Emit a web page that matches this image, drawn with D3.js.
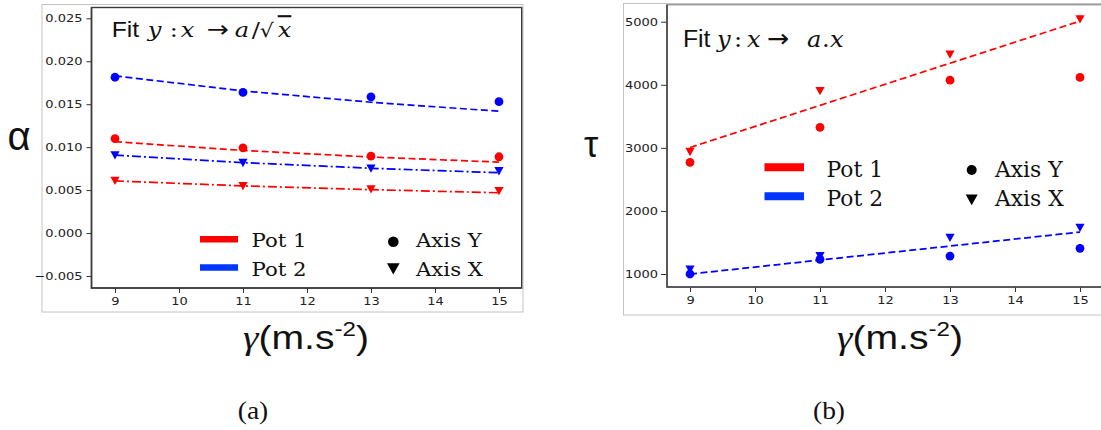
<!DOCTYPE html>
<html>
<head>
<meta charset="utf-8">
<script src="https://cdn.jsdelivr.net/npm/d3@7"></script>
<style>
  html, body { margin: 0; padding: 0; background: #fff; }
  svg { display: block; }
</style>
</head>
<body>
<svg id="chart" width="1101" height="430"></svg>
<script>
// ---------- data ----------
const gamma = [9, 11, 13, 15];
const gammaTicks = [9, 10, 11, 12, 13, 14, 15];

const alphaPot1AxisY = [0.0110, 0.00992, 0.00896, 0.00888];
const alphaPot1AxisX = [0.00609, 0.00548, 0.00510, 0.00490];
const alphaPot2AxisY = [0.01814, 0.01637, 0.01586, 0.01530];
const alphaPot2AxisX = [0.00907, 0.00818, 0.00753, 0.00722];
const alphaFitPot1AxisY = [0.01063, 0.00962, 0.00885, 0.00826];
const alphaFitPot1AxisX = [0.00607, 0.00549, 0.00505, 0.00469];
const alphaFitPot2AxisY = [0.01830, 0.01655, 0.01523, 0.01418];
const alphaFitPot2AxisX = [0.00907, 0.00820, 0.00754, 0.00702];
const alphaTicks = [-0.005, 0.000, 0.005, 0.010, 0.015, 0.020, 0.025];

const tauPot1AxisY = [2770, 3325, 4074, 4117];
const tauPot1AxisX = [2938, 3905, 4482, 5041];
const tauPot2AxisY = [1000, 1233, 1285, 1407];
const tauPot2AxisX = [1074, 1285, 1575, 1734];
const tauFitPot1 = [3006, 3674, 4342, 5010];
const tauFitPot2 = [999, 1221, 1443, 1665];
const tauTicks = [1000, 2000, 3000, 4000, 5000];

const potLabels = ["Pot 1", "Pot 2"];
const axisLabels = ["Axis Y", "Axis X"];

// ---------- styles ----------
const RED = "#ff0000", BLUE = "#0000ff", LEG_BLUE = "#0035ff";
const DASH = "7,3.5", DASHDOT = "9,3,2,3";
const SX = 1.15; // horizontal stretch of the original figure

const svg = d3.select("#chart");

function stretchedText(g, x, y, str, opts) {
  const t = g.append("text")
    .attr("transform", `translate(${x},${y}) scale(${opts.sx || SX},${opts.sy || 1})`)
    .attr("font-family", opts.family || "DejaVu Serif")
    .attr("font-size", opts.size || 18)
    .attr("fill", opts.fill || "#111")
    .attr("text-anchor", opts.anchor || "start");
  if (opts.style) t.attr("font-style", opts.style);
  t.text(str);
  return t;
}

const triPath = (s) => `M${-s},${-s * 0.85} L${s},${-s * 0.85} L0,${s * 0.95} Z`;

function panel(cfg) {
  const g = svg.append("g");
  g.append("rect")
    .attr("x", cfg.outer[0]).attr("y", cfg.outer[1])
    .attr("width", cfg.outer[2]).attr("height", cfg.outer[3])
    .attr("fill", "none").attr("stroke", "#c4c4c4").attr("stroke-width", 1);

  const x = d3.scaleLinear().domain(cfg.xDomain).range(cfg.xRange);
  const y = d3.scaleLinear().domain(cfg.yDomain).range(cfg.yRange);

  const xAxis = d3.axisBottom(x).tickValues(gammaTicks).tickFormat(d3.format("d"))
    .tickSize(5).tickPadding(3.5);
  const yAxis = d3.axisLeft(y).tickValues(cfg.yTicks).tickFormat(cfg.yFormat)
    .tickSize(cfg.yTickSize).tickPadding(cfg.yTickPad);

  const gx = g.append("g").attr("transform", `translate(0,${cfg.yRange[0]})`).call(xAxis);
  const gy = g.append("g").attr("transform", `translate(${cfg.xRange[0]},0)`).call(yAxis);
  [gx, gy].forEach(a => {
    a.select(".domain").remove();
    a.selectAll("line").attr("stroke", "#333").attr("stroke-width", 1);
    a.selectAll("text").attr("font-family", "DejaVu Sans").attr("font-size", 11.3)
      .attr("fill", "#222");
  });
  gy.selectAll("text").each(function () {
    const t = d3.select(this);
    const xx = +t.attr("x");
    t.attr("x", null).attr("transform", `translate(${xx},0) scale(${SX},1)`);
  });
  gx.selectAll("text").attr("transform", `scale(${SX},1)`);

  g.append("rect")
    .attr("x", cfg.xRange[0]).attr("y", cfg.yRange[1])
    .attr("width", cfg.xRange[1] - cfg.xRange[0]).attr("height", cfg.yRange[0] - cfg.yRange[1])
    .attr("fill", "none").attr("stroke", cfg.frameColor || "#3a3a3a").attr("stroke-width", 1.4);
  g.append("path")
    .attr("d", `M${cfg.xRange[0]},${cfg.yRange[1]} V${cfg.yRange[0]} H${cfg.xRange[1]}`)
    .attr("fill", "none").attr("stroke", "#3a3a3a").attr("stroke-width", 1.5);

  const line = d3.line().x((d, i) => x(gamma[i])).y(d => y(d));

  cfg.series.forEach(s => {
    const pts = g.append("g");
    s.values.forEach((v, i) => {
      if (s.marker === "o") {
        pts.append("circle").attr("cx", x(gamma[i])).attr("cy", y(v)).attr("r", s.r || 4.4)
          .attr("fill", s.color);
      } else {
        pts.append("path").attr("d", triPath(s.r || 4.6))
          .attr("transform", `translate(${x(gamma[i])},${y(v)})`).attr("fill", s.color);
      }
    });
  });
  cfg.fits.forEach(f => {
    g.append("path").attr("d", line(f.values)).attr("fill", "none")
      .attr("stroke", f.color).attr("stroke-width", 1.7).attr("stroke-dasharray", f.dash);
  });

  return { g, x, y };
}

// ---------------- Panel (a) ----------------
const A = panel({
  outer: [42, 4.5, 481, 307.5],
  xDomain: [8.633, 15.355], xRange: [91.5, 521.7],
  yDomain: [-0.0064, 0.02626], yRange: [288, 7.5],
  yTicks: alphaTicks, yFormat: d3.format(".3f"), yTickSize: 5, yTickPad: 4,
  series: [
    { values: alphaPot2AxisY, color: BLUE, marker: "o" },
    { values: alphaPot1AxisY, color: RED, marker: "o" },
    { values: alphaPot2AxisX, color: BLUE, marker: "v" },
    { values: alphaPot1AxisX, color: RED, marker: "v" }
  ],
  fits: [
    { values: alphaFitPot2AxisY, color: BLUE, dash: DASH },
    { values: alphaFitPot1AxisY, color: RED, dash: DASH },
    { values: alphaFitPot2AxisX, color: BLUE, dash: DASHDOT },
    { values: alphaFitPot1AxisX, color: RED, dash: DASHDOT }
  ]
});

// ---------------- Panel (b) ----------------
const B = panel({
  outer: [623.5, 3.5, 490, 311.5],
  xDomain: [8.646, 15.36], xRange: [667, 1103.4],
  yDomain: [794, 5270], yRange: [287, 4.7],
  yTicks: tauTicks, yFormat: d3.format("d"), yTickSize: 6, yTickPad: 3,
  frameColor: "#9a9a9a",
  series: [
    { values: tauPot1AxisX, color: RED, marker: "v" },
    { values: tauPot1AxisY, color: RED, marker: "o" },
    { values: tauPot2AxisX, color: BLUE, marker: "v" },
    { values: tauPot2AxisY, color: BLUE, marker: "o" }
  ],
  fits: [
    { values: tauFitPot1, color: RED, dash: DASH },
    { values: tauFitPot2, color: BLUE, dash: DASH }
  ]
});

// ---------------- titles inside plots ----------------
// pieces: [text, x offset (px, on screen), kind]
function fitTitle(g, x0, y0, sy, pieces) {
  const t = g.append("text")
    .attr("transform", `translate(${x0},${y0}) scale(${SX},${sy})`)
    .attr("fill", "#111");
  pieces.forEach(([str, dx, kind]) => {
    const s = t.append("tspan").attr("x", dx / SX).text(str);
    if (kind === "sans") s.attr("font-family", "Liberation Sans").attr("font-size", 21.5);
    else if (kind === "it") s.attr("font-family", "DejaVu Serif").attr("font-style", "italic").attr("font-size", 21);
    else if (kind === "arrow") s.attr("font-family", "DejaVu Sans").attr("font-size", 23);
    else if (kind === "ov") s.attr("font-family", "DejaVu Serif").attr("font-style", "italic").attr("font-size", 21)
      .attr("text-decoration", "overline");
    else if (kind === "rad") s.attr("font-family", "DejaVu Serif").attr("font-size", 19);
    else s.attr("font-family", "DejaVu Serif").attr("font-size", 21);
  });
}
fitTitle(A.g, 111.7, 36.5, 1, [
  ["Fit", 0, "sans"], ["y", 36, "it"], [":", 58, "rm"], ["x", 69, "it"],
  ["\u2192", 95, "arrow"], ["a", 123, "it"], ["/", 140, "rm"], ["\u221A", 148, "rad"], ["x", 166, "ov"]
]);
fitTitle(B.g, 683, 46.5, 1.1, [
  ["Fit", 0, "sans"], ["y", 34, "it"], [":", 51, "rm"], ["x", 64, "it"],
  ["\u2192", 84, "arrow"], ["a", 124, "it"], [".", 139, "rm"], ["x", 147, "it"]
]);

// ---------------- legends ----------------
function legend(g, L) {
  const colors = [RED, LEG_BLUE];
  potLabels.forEach((lab, i) => {
    g.append("line").attr("x1", L.barX[0]).attr("x2", L.barX[1])
      .attr("y1", L.barY[i]).attr("y2", L.barY[i])
      .attr("stroke", colors[i]).attr("stroke-width", L.barW);
    stretchedText(g, L.potX, L.base[i], lab, { size: L.size, sy: L.sy || 1 });
  });
  axisLabels.forEach((lab, i) => {
    if (i === 0) {
      g.append("circle").attr("cx", L.mkX).attr("cy", L.mkY[0]).attr("r", L.cr).attr("fill", "#000");
    } else {
      g.append("path").attr("d", triPath(L.tr)).attr("transform", `translate(${L.mkX},${L.mkY[1]})`)
        .attr("fill", "#000");
    }
    stretchedText(g, L.axX, L.base[i], lab, { size: L.size, sy: L.sy || 1 });
  });
}
legend(A.g, {
  barX: [200, 238], barY: [239.3, 267.6], barW: 6.5,
  potX: 251.5, axX: 416, base: [246.5, 275.5], size: 18.5,
  mkX: 393.3, mkY: [241.7, 268.5], cr: 5.3, tr: 6.3
});
legend(B.g, {
  barX: [764.5, 804], barY: [167.3, 196.2], barW: 8,
  potX: 826.5, axX: 995, base: [176.5, 205.5], size: 19, sy: 1.15,
  mkX: 971.7, mkY: [170, 199.5], cr: 5, tr: 6
});

// ---------------- axis titles ----------------
function yTitle(x0, y0, ch, size, fam) {
  svg.append("text").attr("x", x0).attr("y", y0).attr("font-family", fam)
    .attr("font-size", size).attr("fill", "#111").attr("text-anchor", "middle").text(ch);
}
yTitle(19, 150, "\u03B1", 40, "Liberation Sans");
yTitle(591, 157, "\u03C4", 36, "Liberation Sans");

function xTitle(cx, base) {
  const t = svg.append("text")
    .attr("transform", `translate(${cx},${base}) scale(${SX},1)`)
    .attr("text-anchor", "middle").attr("font-family", "Liberation Sans")
    .attr("font-size", 34).attr("fill", "#111");
  t.append("tspan").attr("font-family", "Liberation Serif").attr("font-style", "italic").text("\u03B3");
  t.append("tspan").text("(m.s");
  t.append("tspan").attr("font-size", 21).attr("dy", -13).text("-2");
  t.append("tspan").attr("dy", 13).text(")");
}
xTitle(306, 349);
xTitle(900, 349);

// subfigure captions
[["(a)", 253], ["(b)", 829]].forEach(([s, cx]) => {
  svg.append("text").attr("transform", `translate(${cx},419) scale(1.1,1)`).attr("text-anchor", "middle")
    .attr("font-family", "Liberation Serif").attr("font-size", 25).attr("fill", "#111").text(s);
});
</script>
</body>
</html>
